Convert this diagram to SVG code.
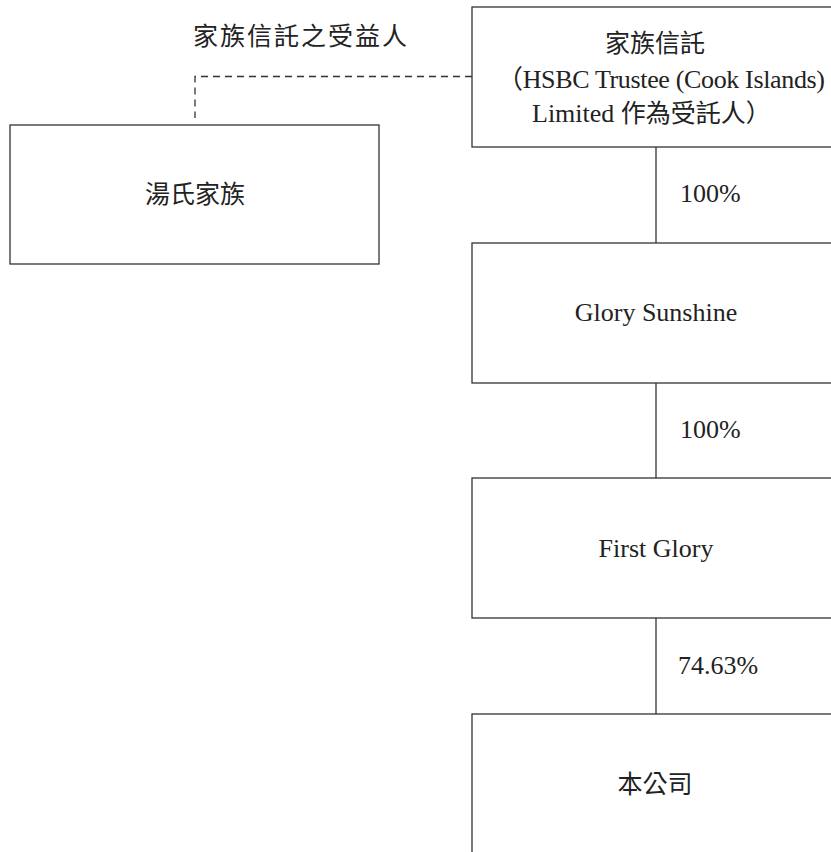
<svg xmlns="http://www.w3.org/2000/svg" width="831" height="852" viewBox="0 0 831 852">
<style>
.box{fill:#fff;stroke:#333;stroke-width:1.3}
.ln{stroke:#333;stroke-width:1.3;fill:none}
.dash{stroke:#333;stroke-width:1.3;fill:none;stroke-dasharray:7,5}
.cjk{font-family:"Noto Sans CJK TC","Noto Sans CJK SC",sans-serif;font-size:25px;fill:#222}
.lat{font-family:"Liberation Serif","Noto Sans CJK TC",serif;font-size:26px;fill:#222}
</style>
<rect width="831" height="852" fill="#fff"/>
<g id="connectors">
<path class="dash" d="M472,76.5 H195 V118"/>
<line class="ln" x1="656" y1="147" x2="656" y2="243"/>
<line class="ln" x1="656" y1="383" x2="656" y2="478"/>
<line class="ln" x1="656" y1="618" x2="656" y2="714"/>
<text class="cjk" x="193" y="45" letter-spacing="2">家族信託之受益人</text>
<text class="lat" x="680" y="202">100%</text>
<text class="lat" x="680" y="438">100%</text>
<text class="lat" x="678" y="674">74.63%</text>
</g>
<g id="trust">
<rect class="box" x="472" y="7" width="380" height="140"/>
<text class="cjk" x="655" y="52" text-anchor="middle">家族信託</text>
<text class="lat" x="497" y="88" textLength="328">（HSBC Trustee (Cook Islands)</text>
<text class="lat" x="532" y="122">Limited <tspan class="cjk" style="font-size:25px">作為受託人）</tspan></text>
</g>
<g id="tang">
<rect class="box" x="10" y="125" width="369" height="139"/>
<text class="cjk" x="195" y="203" text-anchor="middle">湯氏家族</text>
</g>
<g id="glory-sunshine">
<rect class="box" x="472" y="243" width="380" height="140"/>
<text class="lat" x="656" y="321" text-anchor="middle">Glory Sunshine</text>
</g>
<g id="first-glory">
<rect class="box" x="472" y="478" width="380" height="140"/>
<text class="lat" x="656" y="557" text-anchor="middle">First Glory</text>
</g>
<g id="company">
<rect class="box" x="472" y="714" width="380" height="160"/>
<text class="cjk" x="655" y="793" text-anchor="middle">本公司</text>
</g>
</svg>
